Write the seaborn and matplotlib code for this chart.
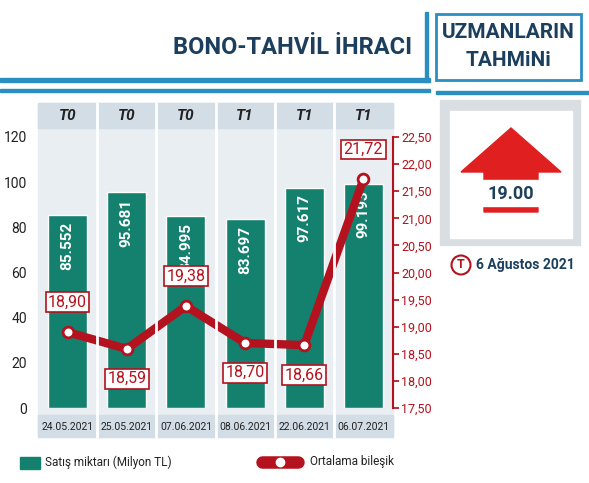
import matplotlib
matplotlib.use("Agg")
import matplotlib.pyplot as plt
import seaborn as sns
import pandas as pd
from matplotlib.patches import Rectangle, Polygon, Ellipse

dates = ["24.05.2021", "25.05.2021", "07.06.2021", "08.06.2021", "22.06.2021", "06.07.2021"]
types = ["T0", "T0", "T0", "T1", "T1", "T1"]
sales = [85.552, 95.681, 84.995, 83.697, 97.617, 99.193]
rates = [18.90, 18.59, 19.38, 18.70, 18.66, 21.72]
left_ticks = [0, 20, 40, 60, 80, 100, 120]
right_ticks = [17.50, 18.00, 18.50, 19.00, 19.50, 20.00, 20.50, 21.00, 21.50, 22.00, 22.50]

sns.set_theme(style="white")
plt.rcParams['font.family'] = ['Roboto', 'DejaVu Sans']
teal = "#14806e"; red = "#b3121e"; navy = "#1c3f5e"; blue = "#2a8fc0"

W, H = 589, 483
fig = plt.figure(figsize=(W/100, H/100), dpi=100)
fig.patch.set_facecolor("white")
def fx(x): return x/W
def fy(y): return 1 - y/H

# header
fig.text(fx(412), fy(48), "BONO-TAHVİL İHRACI", ha="right", va="center", fontsize=17, fontweight="bold", color=navy, fontstretch="condensed")
fig.add_artist(Rectangle((0, fy(82)), fx(430), 4/H, color=blue, transform=fig.transFigure))
fig.add_artist(Rectangle((0, fy(92)), fx(430), 3/H, color=blue, transform=fig.transFigure))
fig.add_artist(Rectangle((fx(425), fy(82)), 3/W, 70/H, color=blue, transform=fig.transFigure))
fig.add_artist(Rectangle((fx(436), fy(80)), fx(145), 66/H, fill=False, ec=blue, lw=2, transform=fig.transFigure))
fig.text(fx(508), fy(32), "UZMANLARIN", ha="center", va="center", fontsize=15, fontweight="bold", color=navy)
fig.text(fx(508), fy(60), "TAHMiNi", ha="center", va="center", fontsize=15, fontweight="bold", color=navy)
fig.add_artist(Rectangle((fx(436), fy(94)), fx(153), 3/H, color=blue, transform=fig.transFigure))

# chart background
fig.add_artist(Rectangle((fx(38), fy(437)), fx(355), 334/H, color="#e9eef2", transform=fig.transFigure, zorder=0))
fig.add_artist(Rectangle((fx(38), fy(128)), fx(355), 25/H, color="#d3dde6", transform=fig.transFigure, zorder=0))
fig.add_artist(Rectangle((fx(38), fy(437)), fx(355), 22/H, color="#d3dde6", transform=fig.transFigure, zorder=0))

ax = fig.add_axes([fx(38), fy(408), fx(355), (408-137)/H])
ax.patch.set_alpha(0)
df = pd.DataFrame({"date": dates, "sales": sales, "rate": rates})
sns.barplot(data=df, x="date", y="sales", color=teal, width=0.66, ax=ax, saturation=1)
ax.set_ylim(0, 120); ax.set_xlim(-0.5, 5.5)
ax.set_yticks(left_ticks)
ax.set_yticklabels([str(t) for t in left_ticks], fontsize=10, color="#222")
ax.set_xticks([]); ax.set_xlabel(""); ax.set_ylabel("")
for s in ax.spines.values(): s.set_visible(False)
ax.tick_params(axis="y", length=0, pad=8)
for i, v in enumerate(sales):
    ax.text(i, v - 3, f"{v:.3f}", rotation=90, ha="center", va="top", color="white", fontsize=11, fontweight="bold")
for i in range(1, 6):
    fig.add_artist(plt.Line2D([fx(38 + i*59.2)]*2, [fy(103), fy(437)], color="white", lw=2, transform=fig.transFigure))
for i, t in enumerate(types):
    fig.text(fx(38 + (i+0.5)*59.2), fy(116), t, ha="center", va="center", fontsize=11, fontweight="bold", style="italic", color="#222")
    fig.text(fx(38 + (i+0.5)*59.2), fy(427), dates[i], ha="center", va="center", fontsize=7.5, color="#222")

ax2 = ax.twinx()
sns.lineplot(x=list(range(6)), y=rates, ax=ax2, color=red, lw=6, zorder=3)
ax2.scatter(range(6), rates, s=60, color="white", edgecolor=red, linewidth=2, zorder=4)
ax2.set_ylim(17.5, 22.5); ax2.set_xlim(-0.5, 5.5)
ax2.set_yticks(right_ticks)
ax2.set_yticklabels([f"{t:.2f}".replace(".", ",") for t in right_ticks], fontsize=9, color=red)
ax2.tick_params(axis="y", length=4, color=red, pad=2, direction="out")
for s in ax2.spines.values(): s.set_visible(False)
ax2.spines["right"].set_visible(True); ax2.spines["right"].set_color(red); ax2.spines["right"].set_linewidth(1.5)
offs = [0.55, -0.55, 0.55, -0.55, -0.55, 0.55]
for i, v in enumerate(rates):
    ax2.text(i, v + offs[i], f"{v:.2f}".replace(".", ","), ha="center", va="center", fontsize=11.5, color=red,
             bbox=dict(boxstyle="square,pad=0.15", fc="white", ec=red, lw=1.2), zorder=5)

# legend
fig.add_artist(Rectangle((fx(20), fy(469)), fx(20), 12/H, color=teal, transform=fig.transFigure))
fig.text(fx(45), fy(462), "Satış miktarı (Milyon TL)", va="center", fontsize=8.5, color="#222")
fig.add_artist(plt.Line2D([fx(262), fx(298)], [fy(462)]*2, color=red, lw=9, solid_capstyle="round", transform=fig.transFigure))
fig.add_artist(plt.Line2D([fx(280)], [fy(462)], marker="o", ms=6, color="white", transform=fig.transFigure))
fig.text(fx(310), fy(462), "Ortalama bileşik", va="center", fontsize=8.5, color="#222")

# right panel
fig.add_artist(Rectangle((fx(440), fy(245)), fx(140), 145/H, color="#d9dee3", transform=fig.transFigure))
fig.add_artist(Rectangle((fx(450), fy(238)), fx(122), 127/H, color="white", transform=fig.transFigure))
arrow = [(461, 172), (511, 128), (561, 172), (538, 172), (538, 212), (484, 212), (484, 172)]
fig.add_artist(Polygon([(fx(x), fy(y)) for x, y in arrow], closed=True, color="#e02020", transform=fig.transFigure))
fig.add_artist(Rectangle((fx(478), fy(206)), fx(66), 26/H, color="white", transform=fig.transFigure))
fig.text(fx(511), fy(194), "19.00", ha="center", va="center", fontsize=13, fontweight="bold", color=navy)
fig.add_artist(Ellipse((fx(461), fy(265)), 19/W, 19/H, fill=False, ec=red, lw=1.5, transform=fig.transFigure))
fig.text(fx(461), fy(265), "T", ha="center", va="center", fontsize=9, fontweight="bold", color=red)
fig.text(fx(476), fy(265), "6 Ağustos 2021", va="center", fontsize=10, fontweight="bold", color=navy)

fig.savefig("out.png", dpi=100, facecolor="white")
